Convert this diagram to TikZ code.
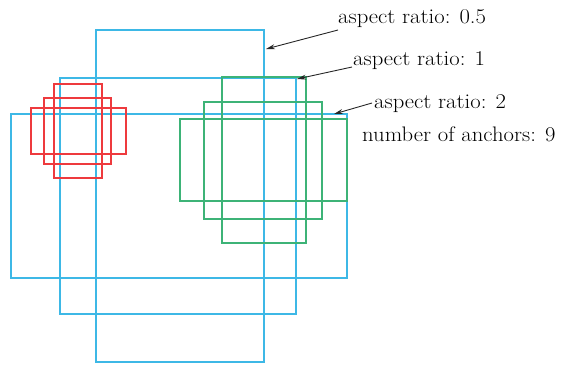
\documentclass[tikz,border=0pt]{standalone}
\usepackage{fontspec}
\setmainfont[FakeStretch=1.08]{Latin Modern Roman}
\usetikzlibrary{arrows.meta,positioning}
\definecolor{aBlue}{HTML}{3DB8E6}
\definecolor{aRed}{HTML}{EE3A3E}
\definecolor{aGreen}{HTML}{3DB377}
\tikzset{
  >=Stealth,
  bluebox/.style ={draw=aBlue,line width=1.4pt},
  redbox/.style  ={draw=aRed,line width=1.4pt},
  greenbox/.style={draw=aGreen,line width=1.4pt},
  lbl/.style     ={anchor=base west,inner sep=0pt,font=\fontsize{21}{24}\selectfont},
  pointer/.style ={-{Stealth[length=9pt,width=5pt]},black!85,line width=0.9pt},
}
\begin{document}
\begin{tikzpicture}[x=1pt,y=-1pt]
  \useasboundingbox (0,0) rectangle (573,367);

  % anchors of the big scale
  \draw[bluebox]  (96,30)  rectangle (264,362);
  \draw[bluebox]  (60,78)  rectangle (296,314);
  \draw[bluebox]  (11,114) rectangle (347,278);

  % anchors of the small scale
  \draw[redbox]   (54,84)  rectangle (102,178);
  \draw[redbox]   (44,98)  rectangle (111,164);
  \draw[redbox]   (31,108) rectangle (126,154);

  % anchors of the middle scale
  \draw[greenbox] (222,77)  rectangle (306,243);
  \draw[greenbox] (204,102) rectangle (322,219);
  \draw[greenbox] (180,119) rectangle (347,201);

  % labels
  \node[lbl] (r05) at (338,23)  {aspect ratio: 0.5};
  \node[lbl] (r1)  at (353,65)  {aspect ratio: 1};
  \node[lbl] (r2)  at (374,108) {aspect ratio: 2};
  \node[lbl] (num) at (362,141) {number of anchors: 9};

  \coordinate (t05) at (266,49);
  \coordinate (t1)  at (297,79);
  \coordinate (t2)  at (334,114);

  \draw[pointer] ([yshift=-7pt]r05.base west) -- (t05);
  \draw[pointer] ([xshift=-1pt,yshift=-2pt]r1.base west) -- (t1);
  \draw[pointer] ([xshift=-2pt,yshift=5pt]r2.base west) -- (t2);
\end{tikzpicture}
\end{document}
